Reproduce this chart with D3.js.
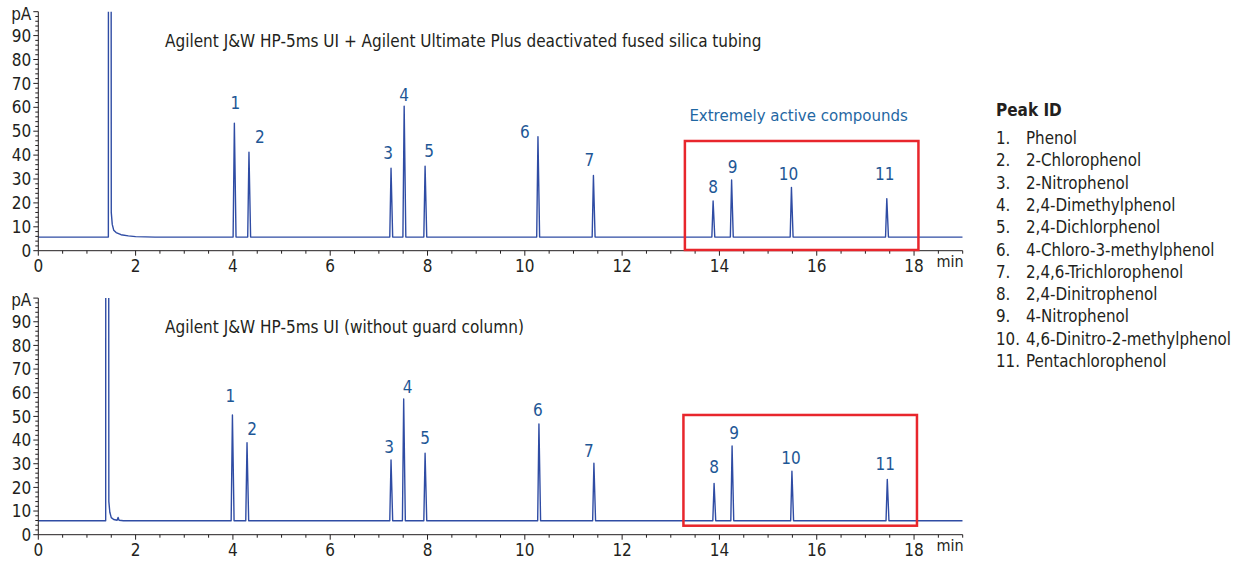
<!DOCTYPE html>
<html>
<head>
<meta charset="utf-8">
<script src="https://cdn.jsdelivr.net/npm/d3@7"></script>
<style>
  body { margin: 0; background: #fff; }
  svg text { font-family: "Liberation Sans Narrow", "DejaVu Sans Condensed", "Liberation Sans", sans-serif; fill: #231f20; }
</style>
</head>
<body>
<svg id="chart" width="1237" height="562"></svg>
<script>
// ---- data -------------------------------------------------------------
const peakIds = ["1", "2", "3", "4", "5", "6", "7", "8", "9", "10", "11"];
const compounds = [
  "Phenol", "2-Chlorophenol", "2-Nitrophenol", "2,4-Dimethylphenol",
  "2,4-Dichlorphenol", "4-Chloro-3-methylphenol", "2,4,6-Trichlorophenol",
  "2,4-Dinitrophenol", "4-Nitrophenol", "4,6-Dinitro-2-methylphenol",
  "Pentachlorophenol"
];

// retention time (min) and apex height (pA) of each numbered peak
const topTimes    = [4.03, 4.33, 7.25, 7.52, 7.95, 10.27, 11.41, 13.87, 14.25, 15.48, 17.44];
const topHeights  = [53.3, 41.2, 34.5, 60.5, 35.4, 47.7, 31.5, 20.8, 29.6, 26.5, 21.8];
const bottomTimes   = [3.99, 4.29, 7.25, 7.51, 7.95, 10.29, 11.42, 13.89, 14.26, 15.49, 17.45];
const bottomHeights = [50.6, 38.9, 31.6, 57.4, 34.4, 46.8, 30.2, 21.7, 37.5, 26.8, 23.4];

const topBaseline = 5.7;
const bottomBaseline = 5.9;

// solvent front (off scale) and its tail, [min, pA]
const topSolvent = [[1.44, 5.7], [1.445, 400], [1.49, 400], [1.50, 16], [1.52, 11], [1.55, 8.6],
  [1.6, 7.6], [1.7, 6.7], [1.85, 6.2], [2.0, 5.9], [2.4, 5.7]];
const bottomSolvent = [[1.385, 5.9], [1.39, 400], [1.44, 400], [1.45, 14], [1.47, 9.5], [1.5, 7.2],
  [1.55, 6.4], [1.62, 6.1], [1.64, 7.3], [1.66, 6.1], [1.75, 5.9], [2.0, 5.9]];

const xTickValues = [0, 2, 4, 6, 8, 10, 12, 14, 16, 18];
const yTickValues = [0, 10, 20, 30, 40, 50, 60, 70, 80, 90];

const panelTitles = [
  "Agilent J&W HP-5ms UI + Agilent Ultimate Plus deactivated fused silica tubing",
  "Agilent J&W HP-5ms UI (without guard column)"
];

// highlighted retention window [t0, t1, pA low, pA high]
const topWindow = [13.29, 18.09, 0.3, 45.9];
const bottomWindow = [13.26, 18.06, 3.8, 50.6];
const windowCaption = "Extremely active compounds";

// ---- layout -----------------------------------------------------------
const topLabelNudge = [[1, -20], [11, -15], [-3, -15], [0, -11], [4, -15], [-13, -5],
  [-4, -16], [0, -14], [1, -13], [-3, -13], [-2, -25]];
const bottomLabelNudge = [[-2, -19], [5, -14], [-2, -13], [4, -12], [0, -15], [-1, -14],
  [-5, -12], [0, -16], [2, -13], [-1, -13], [-2, -15]];

const lineColor = "#2f4ca4";
const labelColor = "#1e5796";
const svg = d3.select("#chart");

const x = d3.scaleLinear().domain([0, 19]).range([38.3, 962.7]);

const panels = [
  { y: d3.scaleLinear().domain([0, 100]).range([250.7, 11.7]), times: topTimes, heights: topHeights,
    base: topBaseline, solvent: topSolvent, title: panelTitles[0], box: topWindow, nudge: topLabelNudge, caption: true, id: "top" },
  { y: d3.scaleLinear().domain([0, 100]).range([534.7, 298.1]), times: bottomTimes, heights: bottomHeights,
    base: bottomBaseline, solvent: bottomSolvent, title: panelTitles[1], box: bottomWindow, nudge: bottomLabelNudge, caption: false, id: "bottom" }
];

const halfLeft = 0.026, halfRight = 0.034;

panels.forEach(p => {
  const y = p.y;
  const g = svg.append("g");

  // clip to the plotting window so the solvent front is cut at 100 pA
  g.append("clipPath").attr("id", "clip-" + p.id)
    .append("rect")
    .attr("x", x(0)).attr("y", y(100))
    .attr("width", x(19) - x(0)).attr("height", y(0) - y(100));

  // chromatogram trace
  const pts = [[0, p.base]];
  p.solvent.forEach(d => pts.push(d));
  p.times.forEach((t, i) => {
    pts.push([t - halfLeft, p.base]);
    pts.push([t, p.heights[i]]);
    pts.push([t + halfRight, p.base]);
  });
  pts.push([19, p.base]);

  g.append("path")
    .attr("clip-path", "url(#clip-" + p.id + ")")
    .attr("d", d3.line().x(d => x(d[0])).y(d => y(d[1]))(pts))
    .attr("fill", "none")
    .attr("stroke", lineColor)
    .attr("stroke-width", 1.4)
    .attr("stroke-linejoin", "round");

  // x axis
  const xAxis = g.append("g").attr("transform", `translate(0,${y(0)})`);
  xAxis.append("line").attr("x1", x(0)).attr("x2", x(19)).attr("stroke", "#231f20").attr("stroke-width", 1);
  xAxis.selectAll(".minor").data(d3.range(0, 19.01, 0.5)).join("line")
    .attr("x1", d => x(d)).attr("x2", d => x(d))
    .attr("y1", 0).attr("y2", d => (d % 2 === 0 ? 5 : 3))
    .attr("stroke", "#231f20").attr("stroke-width", 1);
  xAxis.selectAll("text.tick").data(xTickValues).join("text")
    .attr("class", "tick")
    .attr("x", d => x(d)).attr("y", 21)
    .attr("text-anchor", "middle")
    .attr("font-size", 17)
    .text(d => d);
  xAxis.append("text").attr("x", 950).attr("y", 16).attr("text-anchor", "middle")
    .attr("font-size", 16).text("min");

  // y axis
  const yAxis = g.append("g").attr("transform", `translate(${x(0)},0)`);
  yAxis.append("line").attr("y1", y(0)).attr("y2", y(100)).attr("stroke", "#231f20").attr("stroke-width", 1);
  yAxis.selectAll(".minor").data(d3.range(0, 100.01, 2)).join("line")
    .attr("y1", d => y(d)).attr("y2", d => y(d))
    .attr("x1", d => (d % 10 === 0 ? -5 : -3)).attr("x2", 0)
    .attr("stroke", "#231f20").attr("stroke-width", 1);
  yAxis.selectAll("text.tick").data(yTickValues).join("text")
    .attr("class", "tick")
    .attr("x", -7).attr("y", d => y(d)).attr("dy", "0.36em")
    .attr("text-anchor", "end")
    .attr("font-size", 17)
    .text(d => d);
  yAxis.append("text").attr("x", -7).attr("y", y(100) + 2).attr("dy", "0.36em")
    .attr("text-anchor", "end").attr("font-size", 17).text("pA");

  // panel title
  g.append("text").attr("x", 165).attr("y", y(100) + 35)
    .attr("font-size", 17).text(p.title);

  // peak numbers
  g.selectAll("text.peak").data(peakIds).join("text")
    .attr("class", "peak")
    .attr("x", (d, i) => x(p.times[i]) + p.nudge[i][0])
    .attr("y", (d, i) => y(p.heights[i]) + p.nudge[i][1])
    .attr("dy", "0.36em")
    .attr("text-anchor", "middle")
    .attr("font-size", 17)
    .style("fill", labelColor)
    .text(d => d);

  // highlighted window
  const b = p.box;
  g.append("rect")
    .attr("x", x(b[0])).attr("y", y(b[3]))
    .attr("width", x(b[1]) - x(b[0])).attr("height", y(b[2]) - y(b[3]))
    .attr("fill", "none").attr("stroke", "#e8262c").attr("stroke-width", 2.5);

  if (p.caption) {
    g.append("text").attr("x", (x(b[0]) + x(b[1])) / 2 - 3).attr("y", y(b[3]) - 20)
      .attr("text-anchor", "middle").attr("font-size", 16.7)
      .style("fill", "#1f67a3").text(windowCaption);
  }
});

// peak identification list
const legend = svg.append("g").attr("transform", "translate(996,0)");
legend.append("text").attr("x", 0).attr("y", 116).attr("font-size", 17)
  .attr("font-weight", "bold").text("Peak ID");
legend.selectAll("text.num").data(peakIds).join("text")
  .attr("class", "num")
  .attr("x", 0).attr("y", (d, i) => 144 + i * 22.3)
  .attr("font-size", 16.8).text(d => d + ".");
legend.selectAll("text.name").data(compounds).join("text")
  .attr("class", "name")
  .attr("x", 30).attr("y", (d, i) => 144 + i * 22.3)
  .attr("font-size", 16.8).text(d => d);
</script>
</body>
</html>
